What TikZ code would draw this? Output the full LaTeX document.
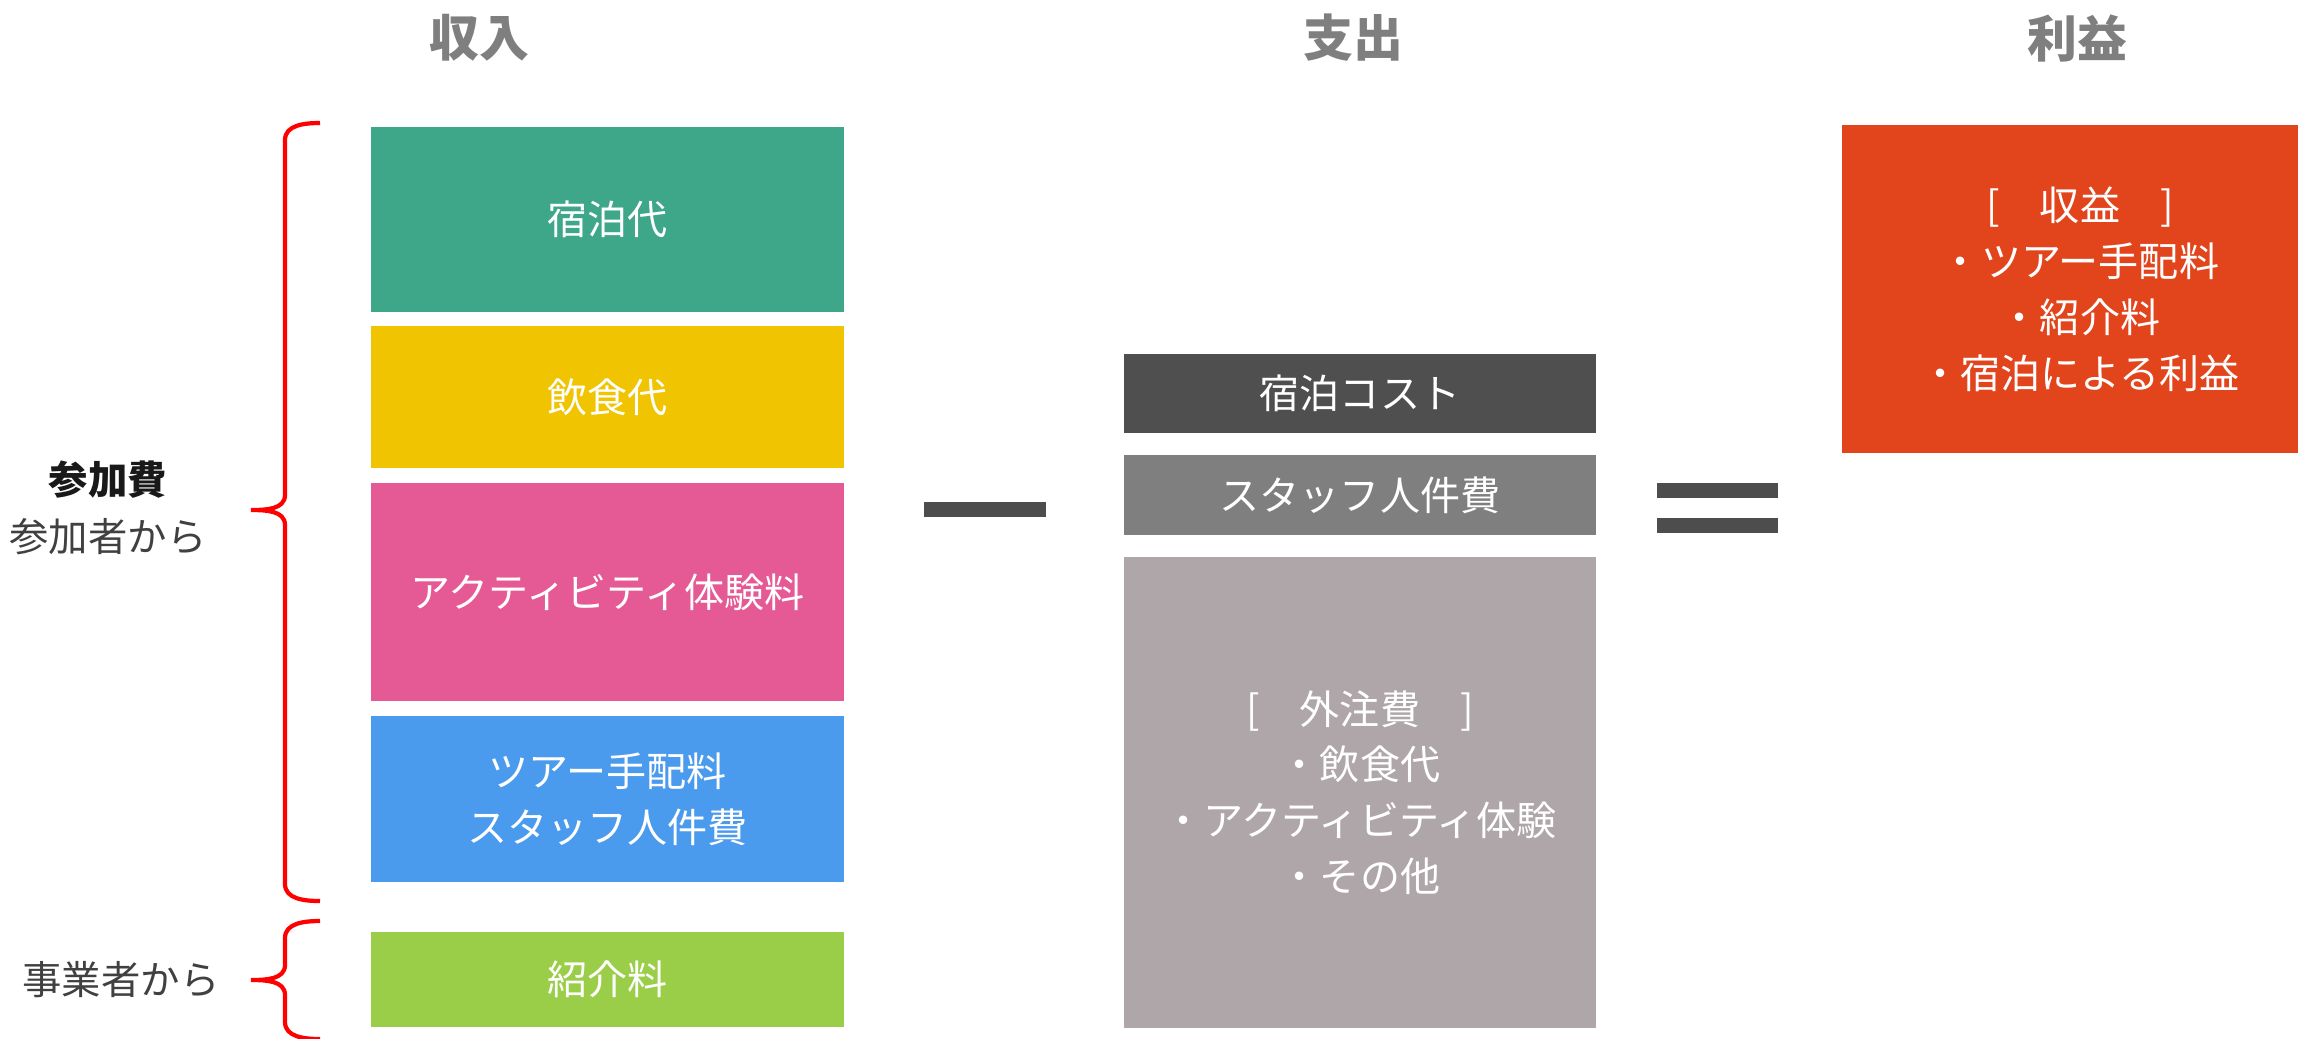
\documentclass[tikz,border=0pt]{standalone}
\usepackage{fontspec}
\setmainfont{Noto Sans CJK JP}
\usetikzlibrary{positioning}

\definecolor{stayc}{RGB}{62,166,137}
\definecolor{foodc}{RGB}{240,196,0}
\definecolor{actc}{RGB}{229,89,148}
\definecolor{tourc}{RGB}{74,154,238}
\definecolor{refc}{RGB}{155,206,72}
\definecolor{lodgec}{RGB}{79,79,79}
\definecolor{staffc}{RGB}{127,127,127}
\definecolor{outc}{RGB}{174,166,168}
\definecolor{profitc}{RGB}{226,68,28}
\definecolor{bargray}{RGB}{77,77,77}
\definecolor{headgray}{RGB}{127,127,127}

\begin{document}
\begin{tikzpicture}[node distance=0.15cm,
    box/.style={fill=#1, text=white, minimum width=4.73cm, inner sep=0pt, outer sep=0pt,
      align=center, font=\fontsize{11.4pt}{15.9pt}\selectfont},
    heading/.style={text=headgray, font=\fontsize{14.2pt}{17pt}\selectfont\bfseries},
    side/.style={text=black!75, align=center, font=\fontsize{11.2pt}{16.2pt}\selectfont},
    bar/.style={fill=bargray, minimum width=1.22cm, minimum height=0.15cm, inner sep=0pt, outer sep=0pt},
    curly/.style={red, line width=1.2pt}]
  \useasboundingbox (0,0) rectangle (22.98,-10.38);

  % headings
  \node[heading] (hin) at (4.79,-0.38) {収入};
  \node[heading] (hout) at (13.53,-0.38) {支出};
  \node[heading] (hprofit) at (20.77,-0.38) {利益};

  % income
  \node[box=stayc, minimum height=1.85cm, anchor=north] (stay) at (6.075,-1.27) {宿泊代};
  \node[box=foodc, minimum height=1.42cm, below=0.14cm of stay] (food) {飲食代};
  \node[box=actc, minimum height=2.18cm, below=of food] (activity) {アクティビティ体験料};
  \node[box=tourc, minimum height=1.66cm, below=of activity] (tour) {ツアー手配料\\スタッフ人件費};
  \node[box=refc, minimum height=0.95cm, below=0.50cm of tour] (referral) {紹介料};

  % who pays
  \node[side] (fee) at (1.08,-5.08) {{\bfseries\color{black!90}参加費}\\参加者から};
  \node[side] (biz) at (1.21,-9.80) {事業者から};
  \coordinate (b1top) at (3.20,-1.23);
  \coordinate (b1tip) at (2.51,-5.10);
  \coordinate (b1bot) at (3.20,-9.01);
  \coordinate (b2top) at (3.20,-9.21);
  \coordinate (b2tip) at (2.51,-9.80);
  \coordinate (b2bot) at (3.20,-10.39);
  \draw[curly] (b1top) to[out=180,in=90] ++(-0.35,-0.17) -- ++(0,-3.55)
    to[out=-90,in=0] (b1tip) to[out=0,in=90] ++(0.34,-0.15) -- ++(0,-3.59)
    to[out=-90,in=180] (b1bot);
  \draw[curly] (b2top) to[out=180,in=90] ++(-0.35,-0.17) -- ++(0,-0.27)
    to[out=-90,in=0] (b2tip) to[out=0,in=90] ++(0.34,-0.15) -- ++(0,-0.27)
    to[out=-90,in=180] (b2bot);

  % minus
  \node[bar] (minus) at (9.845,-5.095) {};

  % costs
  \node[box=lodgec, minimum width=4.72cm, minimum height=0.79cm, anchor=north] (lodgecost) at (13.60,-3.54) {宿泊コスト};
  \node[box=staffc, minimum width=4.72cm, minimum height=0.80cm, below=0.22cm of lodgecost] (staffcost) {スタッフ人件費};
  \node[box=outc, minimum width=4.72cm, minimum height=4.71cm, below=0.22cm of staffcost] (outsource)
    {{[}　外注費　{]}\\・飲食代\\・アクティビティ体験\\・その他};

  % equals
  \node[bar, minimum width=1.21cm] (eqtop) at (17.175,-4.90) {};
  \node[bar, minimum width=1.21cm, below=0.20cm of eqtop] (eqbot) {};

  % profit
  \node[box=profitc, minimum width=4.76cm, minimum height=3.28cm, anchor=north west] (profit) at (18.42,-1.25)
    {{[}　収益　{]}\\・ツアー手配料\\・紹介料\\・宿泊による利益};
\end{tikzpicture}
\end{document}
